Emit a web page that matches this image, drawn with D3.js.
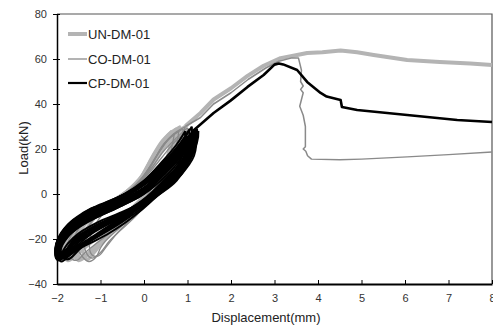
<!DOCTYPE html>
<html><head><meta charset="utf-8">
<script src="https://cdn.jsdelivr.net/npm/d3@7"></script>
<style>body{margin:0;background:#fff}svg{display:block}</style>
</head><body>
<script>
// ---------- data ----------
const seriesNames = ["UN-DM-01", "CO-DM-01", "CP-DM-01"];
const xTicks = [-2, -1, 0, 1, 2, 3, 4, 5, 6, 7, 8];
const yTicks = [-40, -20, 0, 20, 40, 60, 80];

// UN-DM-01 cyclic loops (displacement mm, load kN)
const unLoops = [
  [[0.85,30],[0.6,27],[0.35,21],[0.1,13],[-0.15,5],[-0.55,-1],[-1.05,-7],[-1.45,-14],[-1.65,-21],[-1.6,-27],[-1.5,-29.5],[-1.3,-27],[-1.05,-22],[-0.7,-16],[-0.3,-9],[0.05,-2],[0.35,6],[0.6,16],[0.8,25],[0.85,30]],
  [[0.75,29],[0.5,24],[0.25,17],[0,9],[-0.3,2],[-0.8,-4],[-1.25,-11],[-1.5,-18],[-1.55,-25],[-1.45,-28.5],[-1.25,-26],[-1.0,-21],[-0.65,-15],[-0.25,-8],[0.1,-1],[0.4,8],[0.62,18],[0.75,29]],
  [[0.95,30],[0.7,26],[0.4,19],[0.1,10],[-0.3,2],[-0.85,-5],[-1.35,-12],[-1.7,-20],[-1.85,-27],[-1.75,-29.5],[-1.55,-27],[-1.25,-22],[-0.9,-17],[-0.5,-11],[-0.1,-4],[0.25,3],[0.55,12],[0.85,23],[0.95,30]],
  [[0.65,28],[0.4,23],[0.18,16],[-0.05,8],[-0.4,1],[-0.85,-5.5],[-1.2,-12],[-1.38,-19],[-1.4,-26],[-1.3,-29],[-1.15,-26],[-0.9,-20],[-0.55,-14],[-0.2,-7],[0.12,0],[0.38,8],[0.55,17],[0.65,28]],
  [[0.9,29],[0.65,25],[0.3,17],[0.05,9],[-0.4,1],[-0.95,-6],[-1.5,-13],[-1.8,-21],[-1.9,-27],[-1.8,-29],[-1.6,-26],[-1.3,-21],[-0.95,-16],[-0.5,-10],[-0.1,-3],[0.3,5],[0.6,15],[0.85,24],[0.9,29]]
];
const unEnvelope = [[0.95,30],[1.0,31],[1.3,36],[1.6,42],[2.0,47],[2.38,52.5],[2.75,57],[3.14,60.4],[3.52,61.8],[3.75,62.7],[4.1,63],[4.52,63.8],[4.9,63],[5.28,61.8],[6.05,59.6],[6.8,58.7],[7.5,58],[8,57.3]];

// CO-DM-01
const coLoops = [
  [[0.95,30],[0.7,27],[0.45,22],[0.2,14],[-0.1,6],[-0.5,-1],[-1.0,-7],[-1.4,-13],[-1.6,-20],[-1.45,-27],[-1.27,-30],[-1.1,-28],[-1.0,-24],[-0.89,-21],[-0.5,-14],[-0.12,-8],[0.03,-2],[0.3,6],[0.6,16],[0.85,25],[0.95,30]],
  [[0.9,29],[0.6,25],[0.35,19],[0.1,11],[-0.2,3],[-0.7,-3.5],[-1.2,-9],[-1.55,-15],[-1.75,-22],[-1.7,-28],[-1.55,-29.5],[-1.35,-26],[-1.1,-22],[-0.7,-16],[-0.3,-9],[0.05,-3],[0.35,5],[0.65,15],[0.85,23],[0.9,29]],
  [[1.0,29.5],[0.75,25],[0.45,19],[0.15,11],[-0.25,3],[-0.8,-4],[-1.3,-10],[-1.7,-17],[-1.88,-24],[-1.85,-29],[-1.7,-29],[-1.5,-25],[-1.2,-21],[-0.8,-16.5],[-0.4,-10],[0,-4],[0.35,3],[0.7,13],[0.92,22],[1.0,29.5]],
  [[0.8,28],[0.55,24],[0.3,17],[0.05,9],[-0.3,2],[-0.75,-4.5],[-1.15,-11],[-1.35,-18],[-1.35,-25],[-1.2,-28.5],[-1.0,-26],[-0.8,-21],[-0.5,-15.5],[-0.15,-9],[0.15,-2],[0.45,7],[0.7,18],[0.8,28]],
  [[0.98,28],[0.7,23],[0.4,16],[0.1,9],[-0.35,1],[-0.9,-5.5],[-1.45,-12],[-1.8,-19],[-1.95,-26],[-1.9,-29.5],[-1.75,-28],[-1.55,-24],[-1.25,-20],[-0.85,-15],[-0.45,-9.5],[-0.05,-3.5],[0.3,3],[0.65,12],[0.9,21],[0.98,28]],
  [[0.7,27],[0.45,22],[0.2,14],[-0.05,7],[-0.4,0],[-0.8,-6],[-1.1,-13],[-1.25,-21],[-1.2,-27],[-1.05,-27.5],[-0.85,-23],[-0.6,-17],[-0.3,-11],[0,-4],[0.3,4],[0.55,14],[0.7,27]]
];
const coEnvelope = [[0.95,30],[1.3,34],[1.6,40],[2.0,45],[2.4,51],[2.8,56],[3.1,59],[3.4,60.5],[3.55,60.5],[3.62,55],[3.6,50],[3.66,48],[3.6,46.5],[3.66,45],[3.62,42],[3.58,39],[3.66,35],[3.71,30],[3.71,21],[3.66,20],[3.72,19],[3.76,17],[3.85,15.5],[4.5,15.2],[5,15.5],[6.05,16.5],[7,17.5],[8,18.7]];

// CP-DM-01
const cpLoops = [
  [[1.25,28],[1.07,26],[0.76,20],[0.38,13],[-0.08,4],[-0.5,-1.8],[-1.27,-7],[-1.5,-10.7],[-1.8,-15],[-2.03,-24],[-2.0,-29],[-1.57,-24],[-1.27,-21],[-0.89,-17],[-0.5,-12.4],[-0.03,-6],[0.22,-2],[0.76,7],[1.22,23],[1.25,28]],
  [[1.2,29],[1.0,24],[0.7,17],[0.3,10],[-0.1,3],[-0.6,-3],[-1.2,-8.5],[-1.6,-13],[-1.9,-19],[-1.98,-27],[-1.9,-30],[-1.6,-25],[-1.2,-19.5],[-0.8,-15],[-0.4,-10],[0,-4.5],[0.4,1],[0.8,9],[1.1,19],[1.2,29]],
  [[1.15,27],[0.95,22],[0.6,15],[0.2,8],[-0.2,1.5],[-0.7,-4],[-1.2,-10],[-1.6,-15],[-1.85,-21],[-1.95,-28],[-1.8,-28],[-1.5,-23],[-1.1,-18],[-0.7,-13],[-0.3,-8],[0.1,-2.5],[0.5,3],[0.85,11],[1.1,20],[1.15,27]],
  [[1.1,30],[0.9,24],[0.55,16],[0.15,8],[-0.3,0.5],[-0.8,-4.5],[-1.3,-9],[-1.7,-14.5],[-1.95,-22],[-1.9,-27],[-1.75,-29],[-1.45,-24],[-1.05,-18.5],[-0.6,-12.5],[-0.2,-7],[0.15,-1.5],[0.55,4],[0.9,13],[1.08,22],[1.1,30]],
  [[1.0,26],[0.8,20],[0.45,12],[0.05,5],[-0.4,-1],[-0.9,-6],[-1.4,-11],[-1.75,-17],[-1.92,-24],[-1.85,-27.5],[-1.55,-24.5],[-1.15,-19.5],[-0.75,-14.5],[-0.35,-9],[0.05,-3.5],[0.45,2],[0.8,10],[0.98,19],[1.0,26]],
  [[1.22,27],[1.02,23],[0.72,18],[0.32,11],[-0.05,4.5],[-0.55,-1],[-1.1,-5.5],[-1.45,-9],[-1.75,-13.5],[-1.98,-20],[-2.02,-26],[-1.85,-28.5],[-1.55,-25],[-1.2,-21.5],[-0.85,-18],[-0.45,-13],[-0.05,-7],[0.3,-1],[0.75,6],[1.15,19],[1.22,27]],
  [[0.95,28],[0.75,22],[0.4,14],[0,6],[-0.45,0],[-1,-5],[-1.45,-9.5],[-1.8,-16],[-1.95,-23],[-1.9,-28.5],[-1.65,-26],[-1.3,-21],[-0.95,-16],[-0.55,-11],[-0.15,-5],[0.25,1],[0.65,9],[0.9,18],[0.95,28]],
  [[1.18,25],[0.98,21],[0.68,15],[0.28,8],[-0.15,2],[-0.65,-3],[-1.15,-8],[-1.55,-12],[-1.88,-18],[-2.0,-25],[-1.93,-28],[-1.7,-25.5],[-1.35,-22],[-0.95,-17.5],[-0.55,-12],[-0.15,-6],[0.25,-0.5],[0.65,6],[1.0,15],[1.18,25]],
  [[1.05,29],[0.85,23],[0.5,15],[0.1,7],[-0.35,1],[-0.85,-4],[-1.35,-9],[-1.75,-14],[-1.97,-21],[-1.95,-29],[-1.7,-27],[-1.4,-22.5],[-1.0,-17.5],[-0.6,-12],[-0.2,-6],[0.2,0],[0.6,7],[0.95,17],[1.05,29]],
  [[1.12,28],[0.92,23],[0.62,17],[0.22,9.5],[-0.2,2.5],[-0.7,-2.5],[-1.25,-7.5],[-1.65,-12],[-1.9,-17.5],[-2.02,-23],[-1.98,-29.5],[-1.8,-27],[-1.5,-23],[-1.1,-19],[-0.7,-14.5],[-0.3,-9],[0.1,-3],[0.5,3],[0.9,12],[1.12,28]],
  [[1.15,26],[0.8,17],[0.5,10.5],[0,1.5],[-0.5,-4],[-1,-8],[-1.5,-13],[-1.85,-19],[-2.0,-26],[-1.95,-28],[-1.7,-23],[-1.3,-17],[-0.9,-13],[-0.5,-9],[0,-3.5],[0.5,5],[0.85,12],[1.1,20],[1.15,26]],
  [[1.1,27],[0.85,19],[0.5,12],[0,2.5],[-0.5,-3.5],[-1,-7],[-1.5,-12],[-1.8,-17],[-1.97,-24],[-1.93,-28.5],[-1.65,-22],[-1.25,-16],[-0.85,-12],[-0.45,-8.5],[0.05,-2.5],[0.5,6],[0.88,14],[1.08,21],[1.1,27]],
  [[1.2,27.5],[0.9,20],[0.55,12.5],[0.1,3.5],[-0.4,-2.5],[-0.95,-6.5],[-1.45,-11.5],[-1.82,-18],[-2.0,-25],[-2.0,-28],[-1.75,-24],[-1.35,-18.5],[-0.95,-14],[-0.5,-10],[0,-4.5],[0.45,3],[0.85,10.5],[1.15,20],[1.2,27.5]],
  [[1.05,25],[0.8,18],[0.45,10],[0,2],[-0.5,-4.5],[-1,-9],[-1.45,-14],[-1.75,-19],[-1.92,-25],[-1.88,-27.5],[-1.6,-21.5],[-1.2,-15.5],[-0.8,-11.5],[-0.4,-7.5],[0.05,-1.5],[0.5,7],[0.85,14],[1.02,20],[1.05,25]],
  [[1.18,28.5],[0.95,22],[0.6,14],[0.15,5],[-0.35,-1],[-0.9,-5.5],[-1.4,-10],[-1.78,-15.5],[-2.0,-22],[-2.02,-27.5],[-1.8,-26],[-1.45,-20.5],[-1.05,-15.5],[-0.6,-11],[-0.1,-5],[0.35,1.5],[0.8,9],[1.12,18],[1.18,28.5]],
  [[0.98,24],[0.7,16],[0.35,9],[-0.1,1],[-0.6,-5],[-1.1,-9.5],[-1.55,-15],[-1.85,-21],[-1.95,-26.5],[-1.85,-28],[-1.55,-23],[-1.15,-17],[-0.7,-12],[-0.25,-6.5],[0.2,0.5],[0.6,8.5],[0.9,16],[0.98,24]],
  [[1.15,27],[0.8,14.5],[0.5,8],[0,0],[-0.5,-5],[-1,-9],[-1.5,-13.5],[-1.8,-17.5],[-2,-24],[-1.97,-28],[-1.75,-22],[-1.5,-17.5],[-1,-12],[-0.5,-8],[0,-3],[0.5,5],[0.8,11.5],[1.1,19.5],[1.15,27]],
  [[1.2,28],[0.85,17],[0.5,9.5],[0,1.5],[-0.5,-3.5],[-1,-7.5],[-1.5,-12],[-1.85,-17],[-2.02,-23],[-1.98,-28.5],[-1.7,-23],[-1.5,-19],[-1,-13.5],[-0.5,-9.5],[0,-4.5],[0.5,3.5],[0.85,10],[1.15,19],[1.2,28]],
  [[1.08,26],[0.75,15],[0.45,8.5],[-0.05,-0.5],[-0.55,-5.5],[-1.05,-10],[-1.55,-14.5],[-1.85,-20],[-1.98,-26],[-1.9,-28],[-1.65,-21],[-1.4,-17.5],[-0.95,-12.5],[-0.45,-8],[0.05,-2.5],[0.55,5.5],[0.85,12],[1.05,19],[1.08,26]],
  [[1.22,29],[0.9,18],[0.55,11],[0.05,2.5],[-0.45,-2.5],[-0.95,-6.5],[-1.45,-11],[-1.8,-16],[-2.0,-21],[-2.02,-27],[-1.8,-27],[-1.5,-21],[-1.05,-15.5],[-0.55,-11],[-0.05,-5.5],[0.45,1.5],[0.85,8.5],[1.15,17],[1.22,29]],
  [[1.0,25],[0.7,14],[0.4,7.5],[-0.1,-0.5],[-0.6,-6],[-1.1,-10.5],[-1.55,-15.5],[-1.85,-21],[-1.95,-27],[-1.8,-27.5],[-1.6,-20],[-1.3,-16],[-0.85,-11.5],[-0.35,-7],[0.15,-0.5],[0.6,7.5],[0.9,14],[1.0,25]],
  [[1.13,27],[0.82,16],[0.48,9],[0.02,1],[-0.48,-4.5],[-0.98,-8.5],[-1.48,-13],[-1.82,-18.5],[-2.0,-25],[-1.95,-29],[-1.72,-24],[-1.45,-19],[-1.02,-14],[-0.52,-9],[-0.02,-4],[0.48,4],[0.82,10.5],[1.1,18],[1.13,27]]
];
const cpEnvelope = [[1.12,28],[1.23,29.8],[1.6,36],[1.99,41.5],[2.38,47.6],[2.75,52.9],[3.0,57.5],[3.1,58],[3.2,57.6],[3.52,55.1],[3.75,49.8],[4.06,44.9],[4.2,43.3],[4.52,41.8],[4.55,38.7],[4.9,37.3],[6.05,35.1],[7.2,32.9],[8,32]];

// ---------- layout ----------
const W = 493, H = 327;
const svg = d3.select("body").append("svg").attr("width", W).attr("height", H);
const x = d3.scaleLinear().domain([-2, 8]).range([57, 492]);
const y = d3.scaleLinear().domain([-40, 80]).range([284, 14]);

const styles = [
  {color: "#b4b4b4", width: 3.6, env: 4},
  {color: "#8a8a8a", width: 1.3, env: 1.5},
  {color: "#000000", width: 2.0, env: 2.6}
];

// frame (top/right)
svg.append("path").attr("d", `M${x(-2)},${y(80)}H${x(8)}V${y(-40)}`)
  .attr("fill", "none").attr("stroke", "#555").attr("stroke-width", 1.2);

const line = d3.line().x(d => x(d[0])).y(d => y(d[1])).curve(d3.curveCatmullRom.alpha(0.5));
const lineLin = d3.line().x(d => x(d[0])).y(d => y(d[1]));

const allSeries = [
  {loops: unLoops, env: unEnvelope},
  {loops: coLoops, env: coEnvelope},
  {loops: cpLoops, env: cpEnvelope}
];
const plot = svg.append("g");
allSeries.forEach((s, i) => {
  s.loops.forEach(lp => {
    plot.append("path").attr("d", line(lp)).attr("fill", "none")
      .attr("stroke", styles[i].color).attr("stroke-width", styles[i].width)
      .attr("stroke-linejoin", "round");
  });
  plot.append("path").attr("d", lineLin(s.env)).attr("fill", "none")
    .attr("stroke", styles[i].color).attr("stroke-width", styles[i].env)
    .attr("stroke-linejoin", "round");
});

// axes
const xAxis = d3.axisBottom(x).tickValues(xTicks).tickSizeInner(-4).tickSizeOuter(0).tickPadding(10);
const gx = svg.append("g").attr("transform", `translate(0,${y(-40)})`).call(xAxis);
gx.select(".domain").attr("stroke", "#000").attr("stroke-width", 2);
gx.selectAll(".tick line").attr("stroke", "#000");
gx.selectAll("text").attr("font-family", "Liberation Sans, Arial, sans-serif").attr("font-size", 11).attr("fill", "#333");

const yAxis = d3.axisLeft(y).tickValues(yTicks).tickSizeInner(4).tickSizeOuter(0).tickPadding(6);
const gy = svg.append("g").attr("transform", `translate(${x(-2)},0)`).call(yAxis);
gy.select(".domain").attr("stroke", "#000").attr("stroke-width", 1.5);
gy.selectAll(".tick line").attr("stroke", "#000").attr("x2", 3).attr("x1", -4);
gy.selectAll("text").attr("font-family", "Liberation Sans, Arial, sans-serif").attr("font-size", 11).attr("fill", "#333");

// axis titles
svg.append("text").attr("x", 266).attr("y", 322).attr("text-anchor", "middle")
  .attr("font-family", "Liberation Sans, Arial, sans-serif").attr("font-size", 13).attr("fill", "#222")
  .text("Displacement(mm)");
svg.append("text").attr("transform", `translate(28,${148}) rotate(-90)`).attr("text-anchor", "middle")
  .attr("font-family", "Liberation Sans, Arial, sans-serif").attr("font-size", 13).attr("fill", "#222")
  .text("Load(kN)");

// legend
const legY = [34, 59, 83];
seriesNames.forEach((n, i) => {
  svg.append("line").attr("x1", 68).attr("x2", 87).attr("y1", legY[i]).attr("y2", legY[i])
    .attr("stroke", styles[i].color).attr("stroke-width", i === 0 ? 4 : (i === 1 ? 1.3 : 2.2));
  svg.append("text").attr("x", 88).attr("y", legY[i] + 4.5)
    .attr("font-family", "Liberation Sans, Arial, sans-serif").attr("font-size", 13).attr("fill", "#222")
    .text(n);
});
</script>
</body></html>
